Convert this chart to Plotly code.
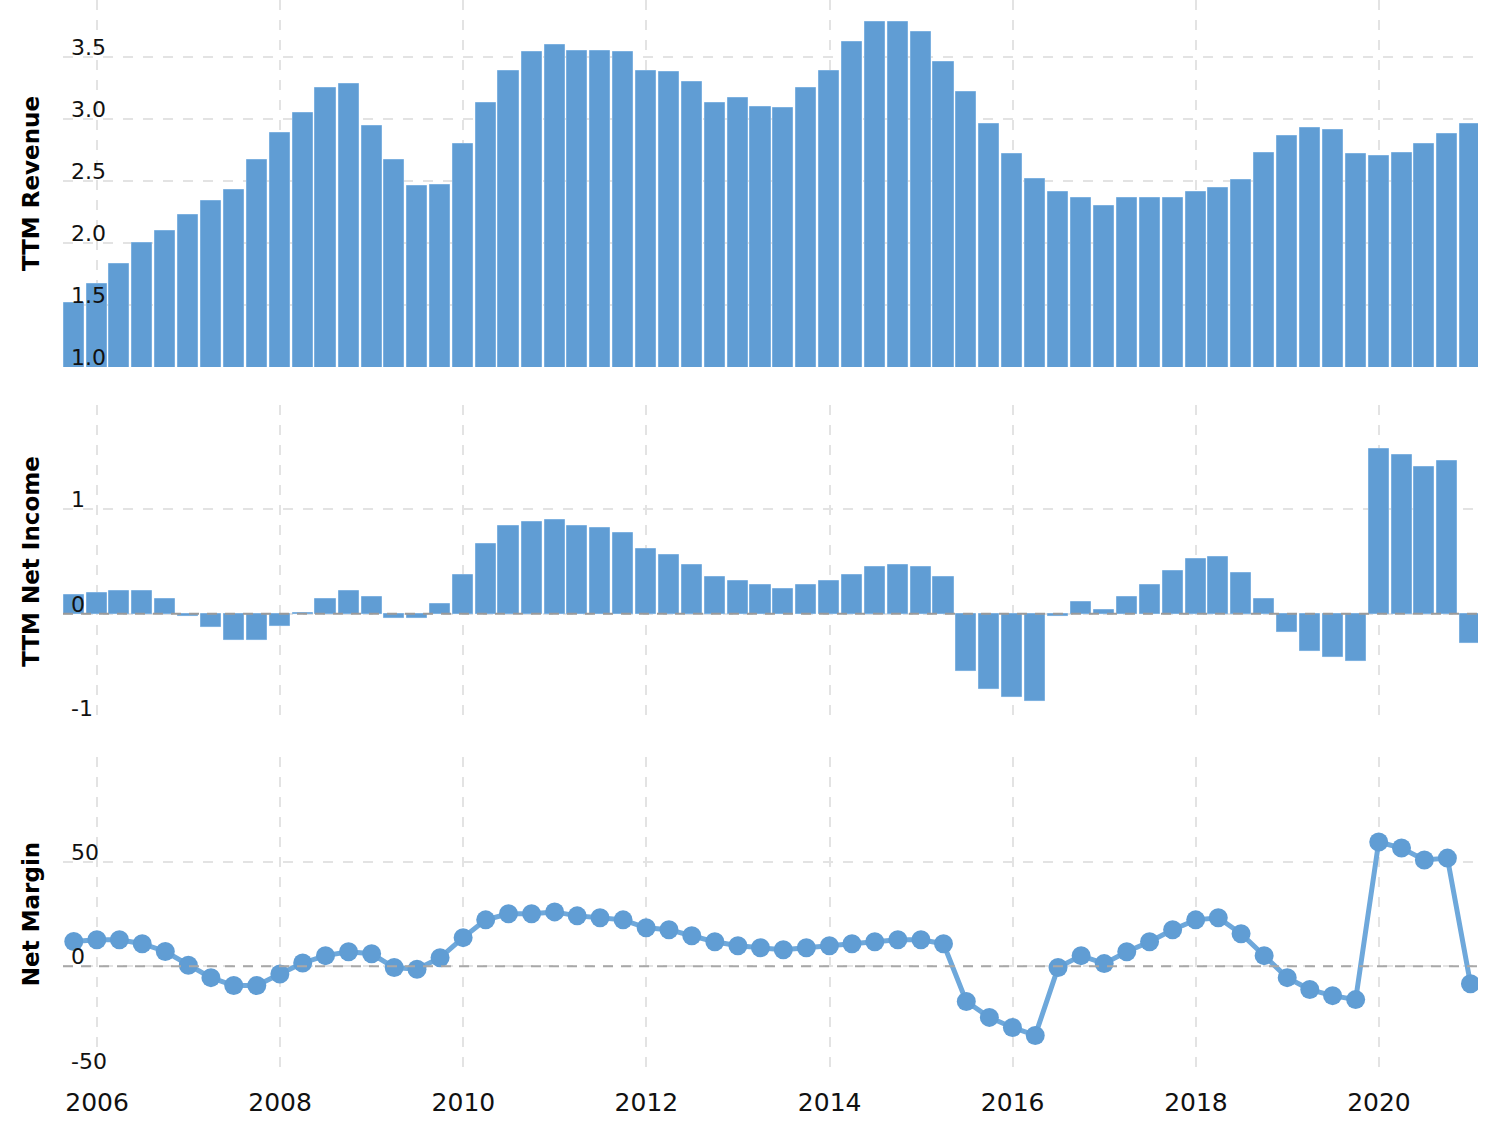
import plotly.graph_objects as go
from plotly.subplots import make_subplots

dates = [
    "2005-09-30", "2005-12-31",
    "2006-03-31", "2006-06-30", "2006-09-30", "2006-12-31",
    "2007-03-31", "2007-06-30", "2007-09-30", "2007-12-31",
    "2008-03-31", "2008-06-30", "2008-09-30", "2008-12-31",
    "2009-03-31", "2009-06-30", "2009-09-30", "2009-12-31",
    "2010-03-31", "2010-06-30", "2010-09-30", "2010-12-31",
    "2011-03-31", "2011-06-30", "2011-09-30", "2011-12-31",
    "2012-03-31", "2012-06-30", "2012-09-30", "2012-12-31",
    "2013-03-31", "2013-06-30", "2013-09-30", "2013-12-31",
    "2014-03-31", "2014-06-30", "2014-09-30", "2014-12-31",
    "2015-03-31", "2015-06-30", "2015-09-30", "2015-12-31",
    "2016-03-31", "2016-06-30", "2016-09-30", "2016-12-31",
    "2017-03-31", "2017-06-30", "2017-09-30", "2017-12-31",
    "2018-03-31", "2018-06-30", "2018-09-30", "2018-12-31",
    "2019-03-31", "2019-06-30", "2019-09-30", "2019-12-31",
    "2020-03-31", "2020-06-30", "2020-09-30", "2020-12-31",
]

ttm_revenue = [
    1.52, 1.67, 1.83, 2.00, 2.10, 2.23, 2.34, 2.43, 2.67, 2.89,
    3.05, 3.25, 3.28, 2.94, 2.67, 2.46, 2.47, 2.80, 3.13, 3.39,
    3.54, 3.60, 3.55, 3.55, 3.54, 3.39, 3.38, 3.30, 3.13, 3.17,
    3.10, 3.09, 3.25, 3.39, 3.62, 3.78, 3.78, 3.70, 3.46, 3.22,
    2.96, 2.72, 2.52, 2.41, 2.36, 2.30, 2.36, 2.36, 2.36, 2.41,
    2.44, 2.51, 2.73, 2.86, 2.93, 2.91, 2.72, 2.70, 2.73, 2.80,
    2.88, 2.96,
]

ttm_net_income = [
    0.18, 0.20, 0.22, 0.22, 0.145, -0.025, -0.13, -0.25, -0.25, -0.115,
    0.005, 0.145, 0.22, 0.163, -0.04, -0.04, 0.088, 0.37, 0.67, 0.84,
    0.88, 0.90, 0.84, 0.82, 0.77, 0.62, 0.56, 0.465, 0.35, 0.31,
    0.277, 0.24, 0.277, 0.314, 0.37, 0.447, 0.465, 0.447, 0.352, -0.55,
    -0.72, -0.795, -0.833, -0.025, 0.107, 0.031, 0.163, 0.277, 0.41, 0.522,
    0.54, 0.39, 0.145, -0.173, -0.36, -0.418, -0.456, 1.578, 1.522, 1.41,
    1.465, -0.286,
]

net_margin = [
    11.9, 12.7, 12.7, 10.8, 7.1, 0.5, -5.4, -9.2, -9.2, -3.7,
    1.6, 5.1, 7.0, 6.0, -0.6, -1.4, 4.1, 13.7, 22.2, 25.1,
    25.1, 26.0, 24.1, 23.2, 22.2, 18.4, 17.5, 14.6, 11.7, 9.8,
    8.9, 7.9, 8.9, 9.8, 10.8, 11.7, 12.7, 12.7, 10.8, -16.8,
    -24.4, -29.2, -33.0, -0.6, 5.1, 1.3, 7.0, 11.7, 17.5, 22.2,
    23.2, 15.6, 5.1, -5.4, -11.1, -14.0, -15.9, 59.4, 56.5, 50.8,
    51.7, -8.3,
]

rev_ticks = [1.0, 1.5, 2.0, 2.5, 3.0, 3.5]
rev_ticktext = ["1.0", "1.5", "2.0", "2.5", "3.0", "3.5"]
ni_ticks = [-1, 0, 1, 2]
ni_ticktext = ["-1", "0", "1", ""]
nm_ticks = [-50, 0, 50, 100]
nm_ticktext = ["-50", "0", "50", ""]

BLUE = "#609dd4"
LINE_BLUE = "#6ea8db"
EDGE = "#7db1e0"
GRID = "#e3e3e3"
BAR_W = 80 * 24 * 3600 * 1000  # ms

fig = make_subplots(rows=3, cols=1, shared_xaxes=True)

fig.add_trace(go.Bar(x=dates, y=ttm_revenue, width=BAR_W,
                     marker=dict(color=BLUE, line=dict(color=EDGE, width=1))),
              row=1, col=1)
fig.add_trace(go.Bar(x=dates, y=ttm_net_income, width=BAR_W,
                     marker=dict(color=BLUE, line=dict(color=EDGE, width=1))),
              row=2, col=1)
fig.add_trace(go.Scatter(x=dates, y=net_margin, mode="lines+markers",
                         line=dict(color=LINE_BLUE, width=5),
                         marker=dict(color=BLUE, size=19)),
              row=3, col=1)

xr = ["2005-08-18", "2021-01-30"]
for i in (1, 2, 3):
    fig.update_xaxes(range=xr, type="date", showgrid=True, gridcolor=GRID,
                     gridwidth=2, griddash="10px,10px", dtick="M24",
                     tick0="2006-01-01", tickformat="%Y", zeroline=False,
                     showline=False, ticks="", row=i, col=1)
fig.update_xaxes(tickfont=dict(size=25, family="DejaVu Sans", color="#111"),
                 ticklabelstandoff=14, row=3, col=1)

ycommon = dict(showgrid=True, gridcolor=GRID, gridwidth=2, griddash="10px,10px",
               zeroline=False, showline=False, ticks="", showticklabels=False)
title_font = dict(size=23, family="DejaVu Sans", color="#000", weight="bold")

fig.update_yaxes(domain=[0.6573, 1.0], range=[1.0, 3.96], tickvals=rev_ticks,
                 title=dict(text="TTM Revenue", font=title_font, standoff=15),
                 row=1, col=1, **ycommon)
fig.update_yaxes(domain=[0.3296, 0.6218], range=[-1, 2], tickvals=ni_ticks,
                 title=dict(text="TTM Net Income", font=title_font, standoff=15),
                 row=2, col=1, **ycommon)
fig.update_yaxes(domain=[0.0, 0.2932], range=[-50, 100], tickvals=nm_ticks,
                 title=dict(text="Net Margin", font=title_font, standoff=15),
                 row=3, col=1, **ycommon)

# y tick labels sitting inside the plot, just above their gridlines
tick_font = dict(size=22, family="DejaVu Sans", color="#111")
for xref, yref, vals, texts in (("x domain", "y", rev_ticks, rev_ticktext),
                                ("x2 domain", "y2", ni_ticks, ni_ticktext),
                                ("x3 domain", "y3", nm_ticks, nm_ticktext)):
    for v, t in zip(vals, texts):
        if not t:
            continue
        fig.add_annotation(x=0, y=v, xref=xref, yref=yref, text=t,
                           showarrow=False, xanchor="left", yanchor="bottom",
                           xshift=6, yshift=-5, font=tick_font)

fig.add_shape(type="line", xref="x2 domain", yref="y2", x0=0, x1=1, y0=0, y1=0,
              line=dict(color="#9a9a9a", width=2, dash="10px,8px"), layer="above")
fig.add_shape(type="line", xref="x3 domain", yref="y3", x0=0, x1=1, y0=0, y1=0,
              line=dict(color="#a8a8a8", width=2, dash="10px,8px"), layer="above")

fig.update_layout(width=1502, height=1143,
                  margin=dict(l=63, r=24, t=0, b=72),
                  plot_bgcolor="white", paper_bgcolor="white",
                  showlegend=False, bargap=0,
                  font=dict(family="DejaVu Sans", color="#111"))

fig.write_html("out.html")
